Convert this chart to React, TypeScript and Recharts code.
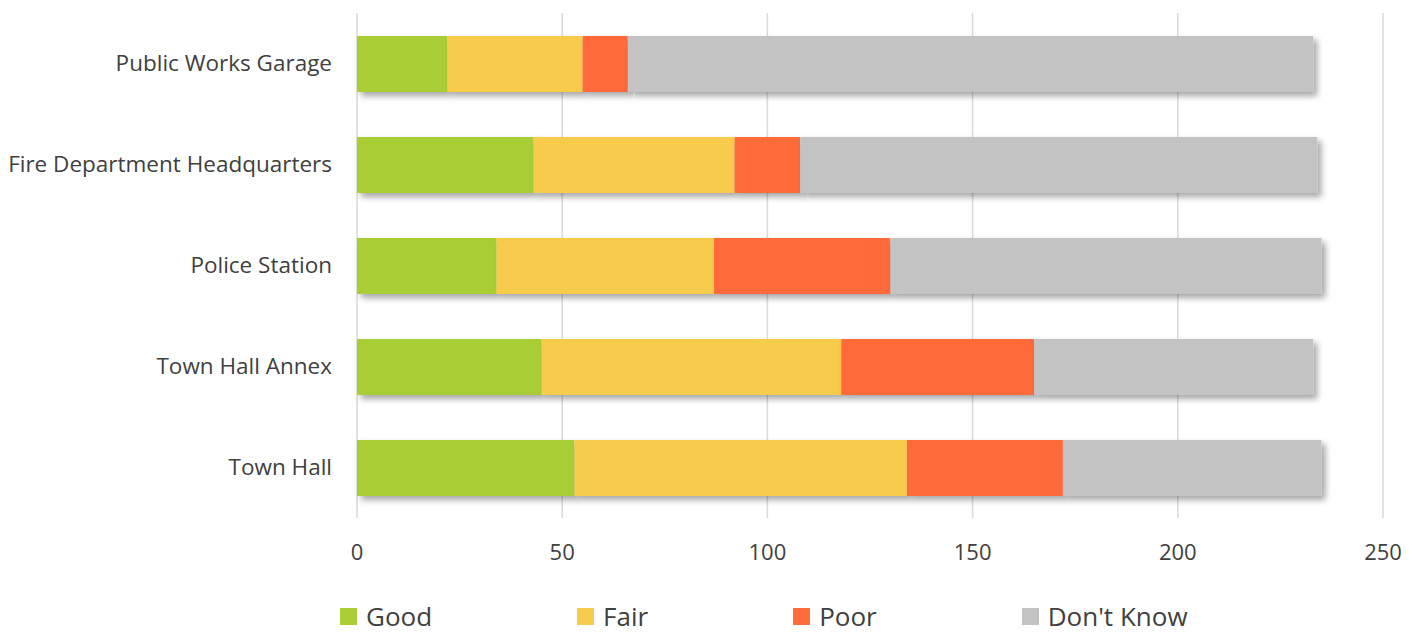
import React from "react";
import {
  BarChart,
  Bar,
  XAxis,
  YAxis,
  CartesianGrid,
  Legend,
} from "recharts";

const facilities = [
  "Public Works Garage",
  "Fire Department Headquarters",
  "Police Station",
  "Town Hall Annex",
  "Town Hall",
];
const good = [22, 43, 34, 45, 53];
const fair = [33, 49, 53, 73, 81];
const poor = [11, 16, 43, 47, 38];
const dontKnow = [167, 126, 105, 68, 63];
const xTicks = [0, 50, 100, 150, 200, 250];

const series = [
  { key: "good", name: "Good", color: "#A9CE35" },
  { key: "fair", name: "Fair", color: "#F7CB4C" },
  { key: "poor", name: "Poor", color: "#FF6B3A" },
  { key: "dontKnow", name: "Don't Know", color: "#C3C3C3" },
];

const data = facilities.map((name, i) => ({
  name,
  good: good[i],
  fair: fair[i],
  poor: poor[i],
  dontKnow: dontKnow[i],
}));

const FONT = "'Open Sans', 'Noto Sans', sans-serif";

function LegendRow() {
  return (
    <div style={{ display: "flex", paddingLeft: 340, fontFamily: FONT }}>
      {series.map((s, i) => (
        <div
          key={s.key}
          style={{
            display: "flex",
            alignItems: "center",
            flexShrink: 0,
            marginRight: i < series.length - 1 ? 145 : 0,
            height: 28,
          }}
        >
          <span
            style={{
              width: 17,
              height: 17,
              background: s.color,
              marginRight: 9,
              display: "inline-block",
            }}
          />
          <span
            style={{
              fontSize: 26,
              color: "#404040",
              lineHeight: "28px",
              whiteSpace: "nowrap",
            }}
          >
            {s.name}
          </span>
        </div>
      ))}
    </div>
  );
}

export default function App() {
  return (
    <div style={{ position: "absolute", left: 0, top: 0, background: "#fff" }}>
      <BarChart
        width={1420}
        height={632}
        data={data}
        layout="vertical"
        margin={{ top: 13, right: 37, left: 0, bottom: 26 }}
        barSize={56}
      >
        <defs>
          <filter id="barShadow" x="-5%" y="-20%" width="115%" height="160%">
            <feDropShadow
              dx="4"
              dy="4"
              stdDeviation="3"
              floodColor="#000"
              floodOpacity="0.35"
            />
          </filter>
        </defs>
        <CartesianGrid horizontal={false} stroke="#D9D9D9" strokeWidth={1.5} />
        <XAxis
          type="number"
          domain={[0, 250]}
          ticks={xTicks}
          axisLine={false}
          tickLine={false}
          tickSize={0}
          tickMargin={26}
          height={60}
          tick={{ fill: "#404040", fontSize: 22, fontFamily: FONT }}
        />
        <YAxis
          type="category"
          dataKey="name"
          width={357}
          axisLine={false}
          tickLine={false}
          tickSize={0}
          tickMargin={25}
          tick={{ fill: "#404040", fontSize: 22.5, fontFamily: FONT }}
        />
        {series.map((s) => (
          <Bar
            key={s.key}
            dataKey={s.key}
            name={s.name}
            stackId="a"
            fill={s.color}
            filter="url(#barShadow)"
            isAnimationActive={false}
          />
        ))}
        <Legend
          content={() => <LegendRow />}
          wrapperStyle={{ top: 602, left: 0, width: 1420 }}
        />
      </BarChart>
    </div>
  );
}
